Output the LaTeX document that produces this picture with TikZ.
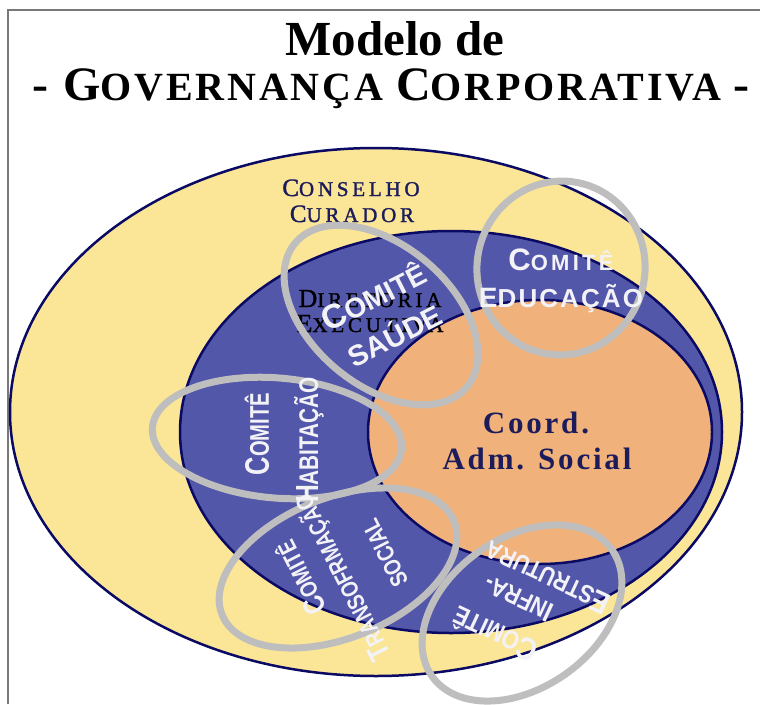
\documentclass[tikz,border=0pt]{standalone}
\usepackage{fontspec}
\setmainfont{Liberation Serif}
\newfontfamily\arialfam{Liberation Sans}
\definecolor{cyellow}{RGB}{251,229,150}
\definecolor{cblue}{RGB}{83,87,170}
\definecolor{corange}{RGB}{240,178,122}
\definecolor{cnavy}{RGB}{10,10,100}
\definecolor{cring}{RGB}{190,190,190}
\definecolor{ctext}{RGB}{243,243,247}
\definecolor{cdark}{RGB}{28,28,92}
\definecolor{cframe}{RGB}{120,120,120}
\newcommand{\SCx}[4]{{\fontsize{#1pt}{#1pt}\selectfont #3}{\fontsize{#2pt}{#2pt}\selectfont #4}}
\tikzset{
  disc/.style={draw=cnavy, line width=2.5pt},
  ring/.style={draw=cring, line width=7pt},
  wt/.style={text=ctext, inner sep=0pt, font=\arialfam\bfseries},
  navytxt/.style={text=cdark, inner sep=0pt, anchor=base},
}
\begin{document}
\begin{tikzpicture}[x=1pt,y=-1pt]
\useasboundingbox (0,0) rectangle (760,704);
\fill[white] (0,0) rectangle (760,704);
% frame
\draw[cframe, line width=1.8pt] (8,704) -- (8,10) -- (760,10);
% title
\node[anchor=base, inner sep=0pt, font=\bfseries] (t1) at (395,55) {\fontsize{49pt}{49pt}\selectfont Modelo de};
\node[anchor=base, inner sep=0pt, font=\fontsize{40pt}{40pt}\bfseries\addfontfeatures{LetterSpace=7}] (t2) at (391,100)
  {\SCx{48}{40}{- G}{OVERNANÇA} \SCx{48}{40}{C}{ORPORATIVA} \SCx{48}{40}{-}{}};
% discs
\fill[cyellow] (376,412) ellipse [x radius=366pt, y radius=264pt];
\draw[disc] (376,412) ellipse [x radius=366pt, y radius=264pt];
\fill[cblue] (451,432) ellipse [x radius=271pt, y radius=201pt];
\draw[disc] (451,432) ellipse [x radius=271pt, y radius=201pt];
\fill[corange] (540,432) ellipse [x radius=172pt, y radius=132pt];
\draw[disc] (540,432) ellipse [x radius=172pt, y radius=132pt];
% dark texts
\node[navytxt, font=\addfontfeatures{LetterSpace=18,FakeBold=1.5}] (cons1) at (351,196) {\SCx{25}{21}{C}{ONSELHO}};
\node[navytxt, font=\addfontfeatures{LetterSpace=18,FakeBold=1.5}] (cons2) at (352,222) {\SCx{25}{21}{C}{URADOR}};
\node[navytxt, text=black, font=\addfontfeatures{LetterSpace=18,FakeBold=1.5}] (dir1) at (370,307) {\SCx{26}{21}{D}{IRETORIA}};
\node[navytxt, text=black, font=\addfontfeatures{LetterSpace=18,FakeBold=1.5}] (dir2) at (370,332) {\SCx{26}{21}{E}{XECUTIVA}};
\node[navytxt, font=\bfseries\addfontfeatures{LetterSpace=9}] (coord1) at (536,433) {\fontsize{31pt}{31pt}\selectfont Coord.};
\node[navytxt, font=\bfseries\addfontfeatures{LetterSpace=9}] (coord2) at (537,469) {\fontsize{31pt}{31pt}\selectfont Adm. Social};
% rings
\draw[ring, rotate around={-40:(381,315)}] (381,315) ellipse [x radius=112pt, y radius=70pt];
\draw[ring, rotate around={-10:(561,268)}] (561,268) ellipse [x radius=84pt, y radius=87pt];
\draw[ring, rotate around={-5:(277,438)}] (277,438) ellipse [x radius=125pt, y radius=60pt];
\draw[ring, rotate around={22:(338,568)}] (338,568) ellipse [x radius=125pt, y radius=70pt];
\draw[ring, rotate around={35:(522,613)}] (522,613) ellipse [x radius=110pt, y radius=75pt];
% white texts
\node[wt, rotate=27] (sau1) at (373,296) {\SCx{34}{28}{C}{OMITÊ}};
\node[wt, rotate=27] (sau2) at (394,334) {\SCx{29}{29}{S}{AÚDE}};
\node[wt, anchor=base, font=\arialfam\bfseries\addfontfeatures{LetterSpace=15}] (edu1) at (561,270) {\SCx{31}{22}{C}{OMITÊ}};
\node[wt, anchor=base, font=\arialfam\bfseries\addfontfeatures{LetterSpace=8}] (edu2) at (561,307) {\SCx{28}{26}{E}{DUCAÇÃO}};
\node[wt, rotate=90] (hab1) at (257,434) {\scalebox{0.75}[1]{\SCx{34}{27}{C}{OMITÊ}}};
\node[wt, rotate=90] (hab2) at (309,440) {\scalebox{0.77}[1]{\SCx{32}{27}{H}{ABITAÇÃO}}};
\node[wt, rotate=117] (tra1) at (300,578) {\scalebox{0.8}[1]{\SCx{30}{24}{C}{OMITÊ}}};
\node[wt, rotate=117] (tra2) at (343,577) {\scalebox{0.8}[1]{\SCx{30}{24}{T}{RANSOFRMAÇÃO}}};
\node[wt, rotate=117] (tra3) at (385,553) {\scalebox{0.8}[1]{\SCx{24}{24}{S}{OCIAL}}};
\node[wt, rotate=155] (inf1) at (495,635) {\scalebox{0.85}[1]{\SCx{32}{26}{C}{OMITÊ}}};
\node[wt, rotate=155] (inf2) at (518,599) {\scalebox{0.85}[1]{\SCx{28}{25}{I}{NFRA-}}};
\node[wt, rotate=155] (inf3) at (547,578) {\scalebox{0.85}[1]{\SCx{31}{25}{E}{STRUTURA}}};
\end{tikzpicture}
\end{document}
